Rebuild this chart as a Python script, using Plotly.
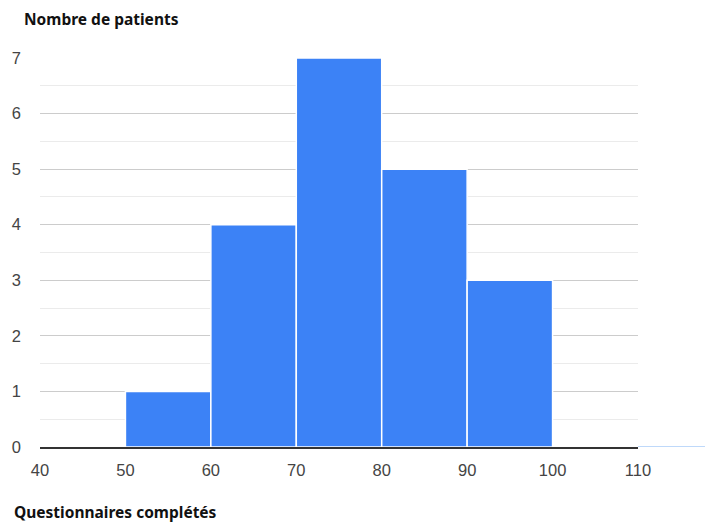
import plotly.graph_objects as go

bin_starts = [50, 60, 70, 80, 90]
bin_width = 10
counts = [1, 4, 7, 5, 3]
x_ticks = [40, 50, 60, 70, 80, 90, 100, 110]
y_ticks = [0, 1, 2, 3, 4, 5, 6, 7]

centers = [s + bin_width / 2 for s in bin_starts]

fig = go.Figure()
fig.add_trace(go.Bar(
    x=centers, y=counts, width=[bin_width] * len(counts),
    marker=dict(color="#3c82f6", line=dict(color="white", width=1.5)),
    hoverinfo="skip",
))

fig.update_layout(
    width=713, height=527,
    margin=dict(l=32, r=83, t=50, b=88),
    paper_bgcolor="white", plot_bgcolor="white",
    showlegend=False,
    font=dict(family="Liberation Sans, Arial", size=16.5, color="#444"),
    xaxis=dict(
        range=[40, 110], tickmode="array", tickvals=x_ticks,
        showgrid=False, zeroline=False, automargin=False,
        showline=True, linecolor="#333", linewidth=1.5,
        ticks="", ticklen=0, ticklabelstandoff=7,
    ),
    yaxis=dict(
        range=[0, 7], tickmode="array", tickvals=y_ticks,
        showgrid=True, gridcolor="#cccccc", gridwidth=1,
        minor=dict(dtick=0.5, showgrid=True, gridcolor="#ebebeb", gridwidth=1),
        zeroline=False, showline=False, ticks="", ticklabelstandoff=18,
        automargin=False,
    ),
    annotations=[
        dict(text="<b>Nombre de patients</b>", xref="paper", yref="paper",
             x=-0.030, y=1.133, xanchor="left", yanchor="top", showarrow=False,
             font=dict(family="Noto Sans", size=15.5, color="#111")),
        dict(text="<b>Questionnaires complétés</b>", xref="paper", yref="paper",
             x=-0.047, y=-0.167, xanchor="left", yanchor="middle", showarrow=False,
             font=dict(family="Noto Sans", size=15.5, color="#111")),
    ],
    shapes=[
        dict(type="line", xref="paper", yref="y", x0=1, x1=1.14, y0=0, y1=0,
             line=dict(color="#aaccf8", width=1.5)),
    ],
)

fig.write_html("out.html")
